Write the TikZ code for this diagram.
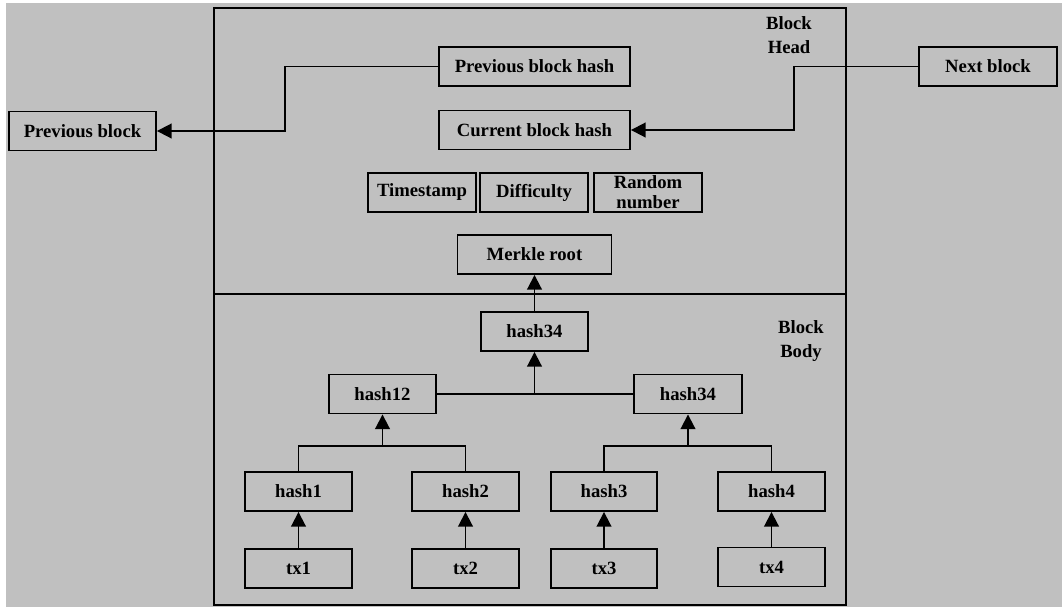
\documentclass[tikz,border=0pt]{standalone}
\usepackage{fontspec}
\setmainfont{Liberation Serif}
\usetikzlibrary{arrows.meta}
\definecolor{bggray}{RGB}{192,192,192}
\tikzset{
  box/.style={draw=black, line width=1.4pt, inner sep=0pt, minimum height=29.25pt, align=center,
    font=\bfseries\fontsize{14}{15}\selectfont},
  lbl/.style={inner sep=0pt, align=center, font=\bfseries\fontsize{14}{18}\selectfont},
  conn/.style={draw=black, line width=1.4pt},
  arr/.style={conn, -{Triangle[length=11pt,width=11pt]}},
}
\begin{document}
\begin{tikzpicture}[x=0.75pt, y=-0.75pt]
\useasboundingbox (0,0) rectangle (1062,607);
\fill[bggray] (6,3) rectangle (1062,607);
% outer block
\draw[line width=1.4pt] (214,8) rectangle (846,605);
\draw[line width=1.4pt] (214,294) -- (846,294);
\node[lbl] (headlbl) at (789,35) {Block\\Head};
\node[lbl] (bodylbl) at (801,341) {Block\\Body};
% head
\node[box, minimum width=110.25pt] (prevblk) at (82.5,131) {Previous block};
\node[box, minimum width=143.25pt] (pbh) at (534.5,66.5) {Previous block hash};
\node[box, minimum width=103.5pt] (next) at (988,66.5) {Next block};
\node[box, minimum width=143.25pt] (cbh) at (534.5,130) {Current block hash};
\node[box, minimum width=81pt] (ts) at (422,192.5) {Timestamp};
\node[box, minimum width=81pt] (diff) at (534,192.5) {Difficulty};
\node[box, minimum width=81pt] (rnd) at (648,192.5) {Random\\number};
\node[box, minimum width=115.5pt] (merkle) at (534.5,254.5) {Merkle root};
% body
\node[box, minimum width=80.25pt] (h34top) at (534.5,331.5) {hash34};
\node[box, minimum width=80.25pt] (h12) at (382.5,394) {hash12};
\node[box, minimum width=81pt] (h34r) at (688,394) {hash34};
\node[box, minimum width=80.25pt] (hash1) at (298.5,491.5) {hash1};
\node[box, minimum width=80.25pt] (hash2) at (465.5,491.5) {hash2};
\node[box, minimum width=79.5pt] (hash3) at (604,491.5) {hash3};
\node[box, minimum width=80.25pt] (hash4) at (771.5,491.5) {hash4};
\node[box, minimum width=80.25pt] (tx1) at (298.5,568.5) {tx1};
\node[box, minimum width=80.25pt] (tx2) at (465.5,568.5) {tx2};
\node[box, minimum width=79.5pt] (tx3) at (604,568.5) {tx3};
\node[box, minimum width=80.25pt] (tx4) at (771.5,567) {tx4};
% connector helpers
\coordinate (bendA) at (285,0);
\coordinate (bendB) at (794,0);
\coordinate (lvl1) at (0,446);
% head connectors
\draw[arr] (pbh.west) -- (pbh.west -| bendA) |- (prevblk.east);
\draw[arr] (next.west) -- (next.west -| bendB) |- (cbh.east);
\draw[arr] (h34top.north) -- (merkle.south);
% tree
\draw[conn] (h12.east) -- (h34r.west);
\draw[arr] (h34top.south |- h12.east) -- (h34top.south);
\draw[conn] (hash1.north) -- (hash1.north |- lvl1) -| (hash2.north);
\draw[arr] (h12.south |- lvl1) -- (h12.south);
\draw[conn] (hash3.north) -- (hash3.north |- lvl1) -| (hash4.north);
\draw[arr] (h34r.south |- lvl1) -- (h34r.south);
\draw[arr] (tx1.north) -- (hash1.south);
\draw[arr] (tx2.north) -- (hash2.south);
\draw[arr] (tx3.north) -- (hash3.south);
\draw[arr] (tx4.north) -- (hash4.south);
\end{tikzpicture}
\end{document}
